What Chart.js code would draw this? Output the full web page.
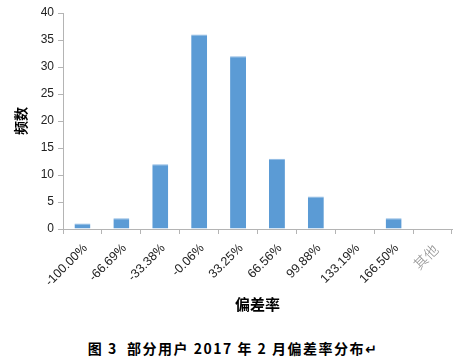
<!DOCTYPE html>
<html>
<head>
<meta charset="utf-8">
<script src="https://cdn.jsdelivr.net/npm/chart.js@4.4.1/dist/chart.umd.min.js"></script>
<style>
  html, body { margin: 0; padding: 0; background: #fff; }
  #wrap { position: relative; width: 466px; height: 364px; }
  #box { position: absolute; left: 0; top: 0; width: 466px; height: 330px; }
  #caption {
    position: absolute; left: 0; top: 338px; width: 466px; text-align: center;
    font: bold 14px "Noto Sans CJK SC", "DejaVu Sans", sans-serif;
    letter-spacing: 1.5px; color: #000;
  }
</style>
</head>
<body>
<div id="wrap">
  <div id="box"><canvas id="myChart"></canvas></div>
  <div id="caption">图 3&nbsp; 部分用户 2017 年 2 月偏差率分布↵</div>
</div>
<script>
const categories = ['-100.00%', '-66.69%', '-33.38%', '-0.06%', '33.25%', '66.56%', '99.88%', '133.19%', '166.50%', '其他'];
const counts = [1, 2, 12, 36, 32, 13, 6, 0, 2, 0];
const yTicks = [0, 5, 10, 15, 20, 25, 30, 35, 40];

const axisColor = '#b4b4b4';
const tickFont = { family: '"Liberation Sans", Arial, sans-serif', size: 12.5 };
const cjkTickFont = { family: '"Noto Sans CJK SC", sans-serif', size: 14, weight: 300 };

new Chart(document.getElementById('myChart'), {
    type: 'bar',
    data: {
        labels: categories,
        datasets: [{
            label: '频数',
            data: counts,
            backgroundColor: '#5b9bd5',
            borderColor: '#8cb8e2',
            borderWidth: { top: 1, left: 0, right: 0, bottom: 0 },
            barPercentage: 0.41,
            categoryPercentage: 1
        }]
    },
    options: {
        responsive: true,
        maintainAspectRatio: false,
        animation: false,
        layout: { padding: { top: 13, right: 14, left: 0, bottom: 0 } },
        plugins: {
            legend: { display: false },
            tooltip: { enabled: false }
        },
        scales: {
            x: {
                grid: {
                    offset: true,
                    drawOnChartArea: false,
                    drawTicks: true,
                    tickLength: 5,
                    color: axisColor
                },
                border: { color: axisColor },
                ticks: {
                    minRotation: 45,
                    maxRotation: 45,
                    padding: 7,
                    labelOffset: 3,
                    color: (ctx) => ctx.index === categories.length - 1 ? '#8a8a8a' : '#222',
                    font: (ctx) => ctx.index === categories.length - 1 ? cjkTickFont : tickFont
                },
                title: {
                    display: true,
                    text: '偏差率',
                    color: '#000',
                    font: { family: '"Noto Sans CJK SC", sans-serif', size: 15, weight: 'bold', lineHeight: 1.2 },
                    padding: { top: 4, bottom: 17 }
                },
                afterFit: (scale) => { scale.height = 101; }
            },
            y: {
                min: 0,
                max: 40,
                afterBuildTicks: (scale) => { scale.ticks = yTicks.map(v => ({ value: v })); },
                grid: {
                    drawOnChartArea: false,
                    drawTicks: true,
                    tickLength: 5,
                    color: axisColor
                },
                border: { color: axisColor },
                ticks: {
                    padding: 4,
                    color: '#222',
                    font: { family: '"Liberation Sans", Arial, sans-serif', size: 12 }
                },
                title: {
                    display: true,
                    text: '频数',
                    color: '#000',
                    font: { family: '"Noto Sans CJK SC", sans-serif', size: 14, weight: 'bold', lineHeight: 1.2 },
                    padding: { top: 12, bottom: 0 }
                },
                afterFit: (scale) => { scale.width = 63; }
            }
        }
    }
});
</script>
</body>
</html>
